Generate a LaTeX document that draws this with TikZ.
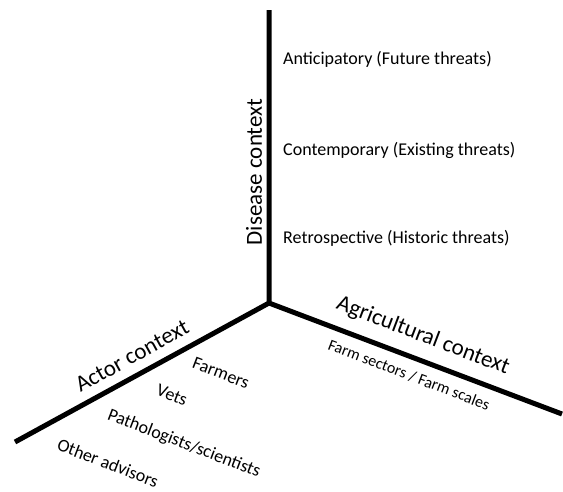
\documentclass[tikz,border=0pt]{standalone}
\usepackage{fontspec}
\setmainfont{Carlito}
\usetikzlibrary{positioning}

\tikzset{
    axis/.style={line width=5pt},
    axislabel/.style={font=\fontsize{23}{26}\selectfont, inner sep=0pt},
    item/.style={font=\fontsize{18}{21}\selectfont, inner sep=0pt}
}

\begin{document}
\begin{tikzpicture}[x=1pt, y=-1pt]
    \useasboundingbox (0,0) rectangle (563,491);

    % axes
    \coordinate (O) at (269,303);
    \coordinate (top) at (269,10);
    \coordinate (left) at (15,442);
    \coordinate (right) at (562,414);
    \draw[axis] (top) -- (O) -- (right);
    \draw[axis] (O) -- (left);

    % Disease context
    \node[axislabel, rotate=90] (disease) at (254,172) {Disease context};
    \node[item, anchor=west] (anticip) at (283,59) {Anticipatory (Future threats)};
    \node[item, anchor=west] (contemp) at (283,150) {Contemporary (Existing threats)};
    \node[item, anchor=west] (retro) at (283,238) {Retrospective (Historic threats)};

    % Agricultural context
    \node[axislabel, rotate=-20.9] (agri) at (423,336) {Agricultural context};
    \node[item, font=\fontsize{16}{19}\selectfont, rotate=-20.9] (sectors) at (409,375) {Farm sectors / Farm scales};

    % Actor context
    \node[axislabel, rotate=28.9] (actor) at (132,356) {Actor context};
    \node[item, rotate=-21] (farmers) at (221,373) {Farmers};
    \node[item, rotate=-21] (vets) at (172,395) {Vets};
    \node[item, rotate=-21] (patho) at (184,444) {Pathologists/scientists};
    \node[item, rotate=-21] (other) at (108,463) {Other advisors};
\end{tikzpicture}
\end{document}
